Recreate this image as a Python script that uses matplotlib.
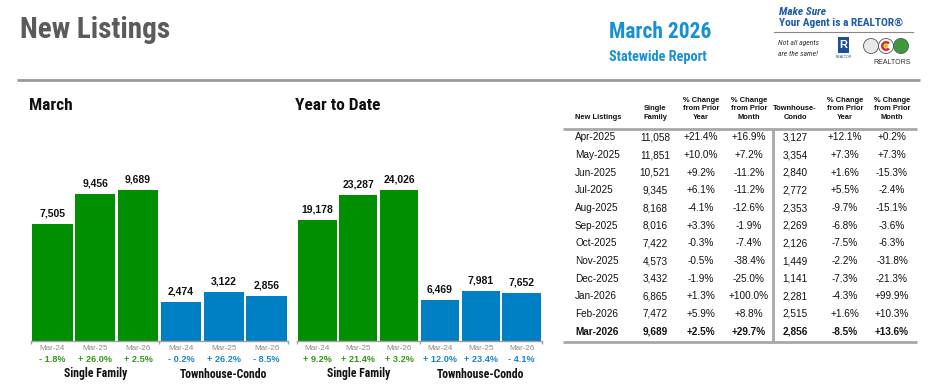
import matplotlib
matplotlib.use("Agg")
import matplotlib.pyplot as plt
from matplotlib.patches import Rectangle, Circle, Wedge
import logging
logging.getLogger("matplotlib.font_manager").setLevel(logging.ERROR)

# ---------------- data ----------------
bar_labels = ["Mar-24", "Mar-25", "Mar-26", "Mar-24", "Mar-25", "Mar-26"]
group_names = ["Single Family", "Townhouse-Condo"]

march_sf = [7505, 9456, 9689]
march_th = [2474, 3122, 2856]
march_sf_pct = ["- 1.8%", "+ 26.0%", "+ 2.5%"]
march_th_pct = ["- 0.2%", "+ 26.2%", "- 8.5%"]

ytd_sf = [19178, 23287, 24026]
ytd_th = [6469, 7981, 7652]
ytd_sf_pct = ["+ 9.2%", "+ 21.4%", "+ 3.2%"]
ytd_th_pct = ["+ 12.0%", "+ 23.4%", "- 4.1%"]

tbl_months = ["Apr-2025", "May-2025", "Jun-2025", "Jul-2025", "Aug-2025", "Sep-2025",
              "Oct-2025", "Nov-2025", "Dec-2025", "Jan-2026", "Feb-2026", "Mar-2026"]
tbl_sf = ["11,058", "11,851", "10,521", "9,345", "8,168", "8,016",
          "7,422", "4,573", "3,432", "6,865", "7,472", "9,689"]
tbl_sf_py = ["+21.4%", "+10.0%", "+9.2%", "+6.1%", "-4.1%", "+3.3%",
             "-0.3%", "-0.5%", "-1.9%", "+1.3%", "+5.9%", "+2.5%"]
tbl_sf_pm = ["+16.9%", "+7.2%", "-11.2%", "-11.2%", "-12.6%", "-1.9%",
             "-7.4%", "-38.4%", "-25.0%", "+100.0%", "+8.8%", "+29.7%"]
tbl_th = ["3,127", "3,354", "2,840", "2,772", "2,353", "2,269",
          "2,126", "1,449", "1,141", "2,281", "2,515", "2,856"]
tbl_th_py = ["+12.1%", "+7.3%", "+1.6%", "+5.5%", "-9.7%", "-6.8%",
             "-7.5%", "-2.2%", "-7.3%", "-4.3%", "+1.6%", "-8.5%"]
tbl_th_pm = ["+0.2%", "+7.3%", "-15.3%", "-2.4%", "-15.1%", "-3.6%",
             "-6.3%", "-31.8%", "-21.3%", "+99.9%", "+10.3%", "+13.6%"]
tbl_headers = ["New Listings", "Single\nFamily", "% Change\nfrom Prior\nYear",
               "% Change\nfrom Prior\nMonth", "Townhouse-\nCondo",
               "% Change\nfrom Prior\nYear", "% Change\nfrom Prior\nMonth"]

# ---------------- style ----------------
GREEN = "#008f00"
BLUE = "#0080c4"
PCT_GREEN = "#2f9a12"
PCT_BLUE = "#1a84cc"
TITLE_BLUE = "#1690d6"
GRAY_TITLE = "#5b5b5b"
NARROW = ["Roboto Condensed", "Archivo Narrow", "Barlow Condensed", "DejaVu Sans"]
SANS = ["Liberation Sans", "DejaVu Sans"]
plt.rcParams["font.family"] = SANS

W, H = 936, 386
fig = plt.figure(figsize=(W / 100, H / 100), dpi=100)
bg = fig.add_axes([0, 0, 1, 1])
bg.set_xlim(0, W)
bg.set_ylim(H, 0)
bg.axis("off")

# header
bg.text(20, 30, "New Listings", fontsize=21, fontweight="bold", color=GRAY_TITLE,
        family=NARROW, va="center", ha="left")
bg.text(609, 32, "March 2026", fontsize=15.5, fontweight="bold", color=TITLE_BLUE,
        family=NARROW, va="center", ha="left")
bg.text(609, 57, "Statewide Report", fontsize=10.3, fontweight="bold", color=TITLE_BLUE,
        family=NARROW, va="center", ha="left")
bg.plot([17, 920], [80, 80], color="#9a9a9a", lw=2, solid_capstyle="butt")

# logo (approximation)
LOGO_BLUE = "#1d5aa8"
bg.text(779, 12, "Make Sure", fontsize=8.2, fontweight="bold", fontstyle="italic",
        color=LOGO_BLUE, va="center", ha="left", family=NARROW)
bg.text(779, 23, "Your Agent is a REALTOR\u00ae", fontsize=8.2, fontweight="bold",
        color=LOGO_BLUE, va="center", ha="left", family=NARROW)
bg.plot([774, 913], [32, 32], color="#888888", lw=0.8)
bg.text(778, 43, "Not all agents", fontsize=5.5, fontstyle="italic", color="#333333",
        va="center", ha="left", family=NARROW)
bg.text(778, 54, "are the same!", fontsize=5.5, fontstyle="italic", color="#333333",
        va="center", ha="left", family=NARROW)
bg.add_patch(Rectangle((838, 37), 11, 16, facecolor="#1a4f9c", edgecolor="none"))
bg.text(843.5, 45, "R", fontsize=8, fontweight="bold", color="white", va="center",
        ha="center")
bg.text(843.5, 57, "REALTOR", fontsize=2.5, color="#1a4f9c", va="center", ha="center")
bg.add_patch(Circle((871, 46), 7.5, facecolor="#e8e8e8", edgecolor="#555555", lw=0.6))
bg.add_patch(Circle((886, 46), 7.5, facecolor="white", edgecolor="#555555", lw=0.6))
bg.add_patch(Wedge((886, 46), 5, 40, 320, width=2.5, facecolor="#d0312d"))
bg.add_patch(Circle((886, 46), 2, facecolor="#f2c200"))
bg.add_patch(Circle((901, 46), 7.5, facecolor="#3c9a3c", edgecolor="#555555", lw=0.6))
bg.text(892, 62, "REALTORS", fontsize=5, color="#333333", va="center", ha="center")

# ---------------- bar panels ----------------
def bar_panel(x0, x1, title, sf, th, sf_pct, th_pct):
    base_y, top_y = 341, 120
    ax = fig.add_axes([x0 / W, (H - base_y) / H, (x1 - x0) / W, (base_y - top_y) / H])
    vals = list(sf) + list(th)
    colors = [GREEN] * len(sf) + [BLUE] * len(th)
    xs = list(range(len(vals)))
    ax.bar(xs, vals, width=0.94, color=colors, edgecolor="none")
    vmax = max(vals)
    ax.set_ylim(0, vmax * (base_y - top_y) / 151.0)
    ax.set_xlim(-0.5, len(vals) - 0.5)
    for s in ["top", "right", "left"]:
        ax.spines[s].set_visible(False)
    ax.spines["bottom"].set_color("#a0a0a0")
    ax.spines["bottom"].set_linewidth(1.0)
    ax.set_yticks([])
    ax.set_xticks(xs)
    ax.set_xticklabels(bar_labels, fontsize=5.8, color="#8a8a8a")
    ax.tick_params(axis="x", which="major", length=0, pad=3)
    ax.set_xticks([-0.5, len(sf) - 0.5, len(vals) - 0.5], minor=True)
    ax.tick_params(axis="x", which="minor", length=2.5, color="#a0a0a0", width=1)
    for x, v in zip(xs, vals):
        ax.annotate(f"{v:,}", (x, v), xytext=(0, 4), textcoords="offset points",
                    ha="center", va="bottom", fontsize=7.5, fontweight="bold",
                    color="#111111")
    trans = ax.get_xaxis_transform()
    pcts = list(sf_pct) + list(th_pct)
    pcolors = [PCT_GREEN] * len(sf_pct) + [PCT_BLUE] * len(th_pct)
    for x, p, c in zip(xs, pcts, pcolors):
        ax.annotate(p, (x, 0), xycoords=trans, xytext=(0, -18 * 0.72),
                    textcoords="offset points", ha="center", va="center",
                    fontsize=6.6, fontweight="bold", color=c)
    groups = [(len(sf) - 1) / 2.0, len(sf) + (len(th) - 1) / 2.0]
    for gx, name in zip(groups, group_names):
        ax.annotate(name, (gx, 0), xycoords=trans, xytext=(0, -33 * 0.72),
                    textcoords="offset points", ha="center", va="center",
                    fontsize=8.5, fontweight="bold", color="#111111", family=NARROW)
    fig.text((x0 - 2) / W, 1 - 106 / H, title, fontsize=12.5, fontweight="bold",
             color="#111111", family=NARROW, va="center", ha="left")
    return ax

bar_panel(31, 288, "March", march_sf, march_th, march_sf_pct, march_th_pct)
bar_panel(297, 542, "Year to Date", ytd_sf, ytd_th, ytd_sf_pct, ytd_th_pct)

# ---------------- table ----------------
col_x = [575, 655, 701, 749, 795, 845, 892]
hdr_bottom = 121
for i, h in enumerate(tbl_headers):
    bg.text(col_x[i], hdr_bottom, h, fontsize=5.4, fontweight="bold",
            color="#111111", ha="left" if i == 0 else "center", va="bottom",
            linespacing=1.35)
bg.plot([563, 917], [128.5, 128.5], color="#a8a8a8", lw=2, solid_capstyle="butt")
bg.plot([563, 917], [341.5, 341.5], color="#a8a8a8", lw=2, solid_capstyle="butt")
bg.plot([773, 773], [128.5, 342], color="#a8a8a8", lw=2, solid_capstyle="butt")

row0, dy = 137.5, 17.65
cols = [tbl_sf, tbl_sf_py, tbl_sf_pm, tbl_th, tbl_th_py, tbl_th_pm]
for r, m in enumerate(tbl_months):
    y = row0 + r * dy
    bold = "bold" if r == len(tbl_months) - 1 else "normal"
    bg.text(575, y, m, fontsize=7.2, color="#111111", ha="left", va="center",
            fontweight=bold)
    for c, col in enumerate(cols):
        bg.text(col_x[c + 1], y, col[r], fontsize=7.2, color="#111111", ha="center",
                va="center", fontweight=bold)

fig.savefig("out.png", dpi=100)
